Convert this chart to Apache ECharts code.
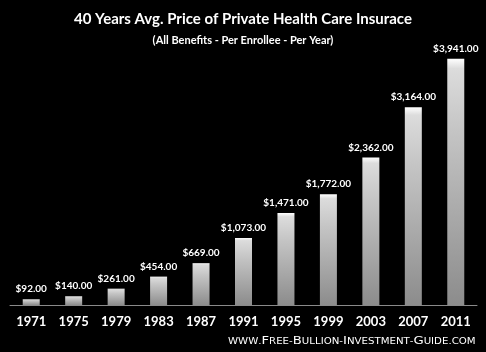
<!DOCTYPE html>
<html>
<head>
<meta charset="utf-8" />
<script src="https://cdn.jsdelivr.net/npm/echarts@6/dist/echarts.min.js"></script>
<title>Health Care Insurance</title>
<style>
  html, body { margin:0; padding:0; background:#000; }
  #main { width:486px; height:352px; }
</style>
</head>
<body>
<div id="main"></div>
<script type="text/javascript">
var years = ['1971','1975','1979','1983','1987','1991','1995','1999','2003','2007','2011'];
var prices = [92, 140, 261, 454, 669, 1073, 1471, 1772, 2362, 3164, 3941];
var titleText = '40 Years Avg. Price of Private Health Care Insurace';
var subText = '(All Benefits - Per Enrollee - Per Year)';
var siteText = 'www.Free-Bullion-Investment-Guide.com';

// small caps: capitals big, the rest upper-cased in a smaller size
function smallCaps(s) {
    var out = '';
    for (var i = 0; i < s.length; i++) {
        var c = s[i];
        if (c >= 'A' && c <= 'Z') out += '{b|' + c + '}';
        else out += '{s|' + c.toUpperCase() + '}';
    }
    return out;
}

function money(v) {
    return '$' + v.toLocaleString('en-US', {minimumFractionDigits: 2, maximumFractionDigits: 2});
}

var font = 'Lato, "Open Sans", sans-serif';

var myChart = echarts.init(document.getElementById('main'));
myChart.setOption({
    backgroundColor: '#000',
    animation: false,
    title: [{
        text: titleText,
        left: 'center',
        top: 7,
        textStyle: {color: '#fff', fontSize: 15, fontWeight: 'bold', fontFamily: font}
    }, {
        text: subText,
        left: 'center',
        top: 30,
        textStyle: {color: '#fff', fontSize: 11, fontWeight: 'bold', fontFamily: font}
    }],
    grid: {left: 10, right: 9, top: 55, bottom: 47},
    xAxis: {
        type: 'category',
        data: years,
        axisTick: {show: false},
        axisLine: {lineStyle: {color: '#8a8a8a', width: 1}},
        axisLabel: {color: '#fff', fontSize: 13, fontWeight: 'bold', fontFamily: font, margin: 10}
    },
    yAxis: {
        type: 'value',
        min: 0,
        max: 4000,
        show: false,
        splitLine: {show: false}
    },
    series: [{
        type: 'bar',
        data: prices,
        barWidth: 17,
        itemStyle: {
            color: new echarts.graphic.LinearGradient(0, 0, 0, 1, [
                {offset: 0, color: '#ffffff'},
                {offset: 0.04, color: '#dcdcdc'},
                {offset: 0.3, color: '#c4c4c4'},
                {offset: 1, color: '#8c8c8c'}
            ])
        },
        label: {
            show: true,
            position: 'top',
            distance: 5,
            color: '#fff',
            fontSize: 10,
            fontWeight: 'bold',
            fontFamily: font,
            formatter: function (p) { return money(p.value); }
        }
    }],
    graphic: [{
        type: 'text',
        x: 228,
        y: 336,
        scaleX: 1.2,
        style: {
            text: smallCaps(siteText),
            fill: '#fff',
            rich: {
                b: {fontSize: 11, fontFamily: 'DejaVu Sans', fill: '#fff'},
                s: {fontSize: 8.5, fontFamily: 'DejaVu Sans', fill: '#fff'}
            }
        }
    }]
});
</script>
</body>
</html>
